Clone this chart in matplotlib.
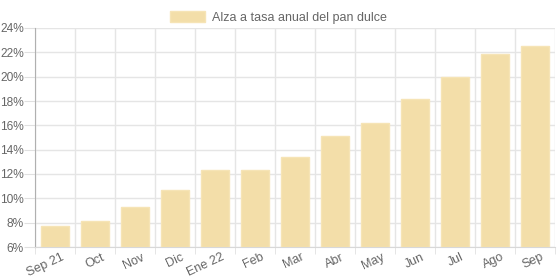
import matplotlib.pyplot as plt
import matplotlib.transforms as mtransforms
from matplotlib.ticker import FuncFormatter, MultipleLocator
import numpy as np

plt.rcParams['font.family'] = ['Liberation Sans', 'DejaVu Sans']

meses = ['Sep 21', 'Oct', 'Nov', 'Dic', 'Ene 22', 'Feb', 'Mar', 'Abr',
         'May', 'Jun', 'Jul', 'Ago', 'Sep']
alza = [7.7, 8.1, 9.25, 10.7, 12.35, 12.35, 13.4, 15.1, 16.2, 18.2, 19.95, 21.9, 22.5]

fig = plt.figure(figsize=(5.57, 2.78), dpi=100)
ax = fig.add_axes([35/557, 1 - 247/278, 520/557, 219/278])

x = np.arange(len(meses))
ax.bar(x, [v - 6 for v in alza], bottom=6, width=0.72, color='#f3dea9',
       edgecolor='#f6e4b6', linewidth=1, label='Alza a tasa anual del pan dulce', zorder=3)

ax.set_xlim(-0.5, len(meses) - 0.5)
ax.set_ylim(6, 24)
ax.yaxis.set_major_locator(MultipleLocator(2))
ax.yaxis.set_major_formatter(FuncFormatter(lambda v, p: '%d%%' % v))

ax.set_xticks(x)
ax.set_xticklabels(meses, rotation=25, ha='right', rotation_mode='anchor')
ax.set_xticks(np.arange(-0.5, len(meses)), minor=True)
ax.tick_params(axis='x', which='major', length=0, pad=3, labelsize=9, labelcolor='#666666')
ax.tick_params(axis='x', which='minor', length=5, color='#e0e0e0')
ax.tick_params(axis='y', length=8, color='#e0e0e0', labelsize=8.6, labelcolor='#666666', pad=0)
desplaza = mtransforms.ScaledTranslation(6/100, 0, fig.dpi_scale_trans)
for t in ax.get_xticklabels():
    t.set_transform(t.get_transform() + desplaza)

ax.grid(True, which='minor', axis='x', color='#e5e5e5', linewidth=1, zorder=0)
ax.grid(True, which='major', axis='y', color='#e5e5e5', linewidth=1, zorder=0)

for s in ['top', 'right']:
    ax.spines[s].set_visible(False)
ax.spines['left'].set_color('#b0b0b0')
ax.spines['bottom'].set_color('#d8d8d8')

leg = fig.legend(loc='upper center', bbox_to_anchor=(0.5, 1.0), frameon=False,
                 fontsize=9, handlelength=2.8, handleheight=0.9, handletextpad=0.6)
for t in leg.get_texts():
    t.set_color('#666666')

fig.savefig('out.png', dpi=100)
